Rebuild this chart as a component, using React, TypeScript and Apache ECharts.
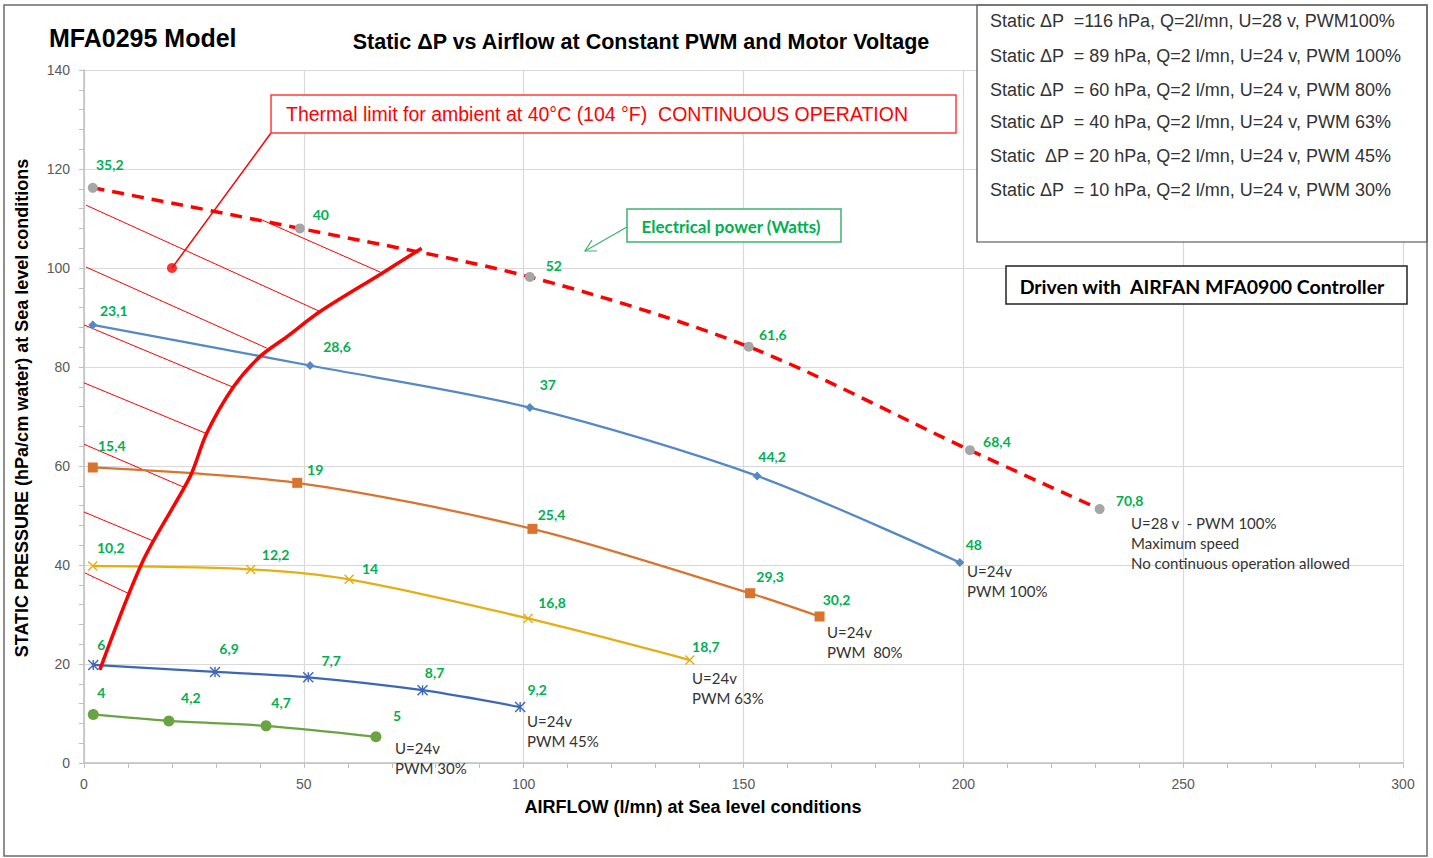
import { useEffect, useRef } from "react";
import * as echarts from "echarts";

// Airflow (l/mn), static pressure (hPa) and electrical power (W) per curve
const u28Pwm100Flow = [2.0, 49.1, 101.4, 151.2, 201.5, 231.0];
const u28Pwm100Pressure = [116.2, 108.0, 98.2, 84.1, 63.2, 51.3];
const u28Pwm100Watts = [35.2, 40, 52, 61.6, 68.4, 70.8];

const pwm100Flow = [2.0, 51.4, 101.4, 153.1, 199.2];
const pwm100Pressure = [88.5, 80.3, 71.8, 58.0, 40.5];
const pwm100Watts = [23.1, 28.6, 37, 44.2, 48];

const pwm80Flow = [2.0, 48.5, 102.0, 151.5, 167.3];
const pwm80Pressure = [59.7, 56.6, 47.3, 34.3, 29.6];
const pwm80Watts = [15.4, 19, 25.4, 29.3, 30.2];

const pwm63Flow = [2.0, 37.9, 60.3, 101.0, 137.8];
const pwm63Pressure = [39.8, 39.1, 37.1, 29.2, 20.8];
const pwm63Watts = [10.2, 12.2, 14, 16.8, 18.7];

const pwm45Flow = [2.1, 29.8, 51.0, 77.0, 99.2];
const pwm45Pressure = [19.8, 18.4, 17.3, 14.7, 11.3];
const pwm45Watts = [6, 6.9, 7.7, 8.7, 9.2];

const pwm30Flow = [2.1, 19.3, 41.4, 66.4];
const pwm30Pressure = [9.8, 8.5, 7.5, 5.3];
const pwm30Watts = [4, 4.2, 4.7, 5];

// Thermal limit curve (40°C ambient, continuous operation)
const thermalFlow = [3.6, 13.5, 24.1, 27.9, 34.0, 40.0, 46.1, 53.7, 67.7, 76.8];
const thermalPressure = [18.8, 41.0, 57.8, 66.6, 76.0, 82.1, 86.1, 91.2, 98.9, 104.0];

// Hatching of the non-continuous zone
const hatchFrom = [[0.45, 112.7], [0.45, 100.2], [40.5, 109.7], [0, 88.5], [0, 76.8], [0, 64.4], [0, 50.7], [0.2, 38.4]];
const hatchTo = [[53.7, 91.2], [41.6, 83.8], [67.8, 99.0], [33.7, 76.0], [28.0, 66.5], [22.5, 55.8], [15.9, 44.8], [10.0, 34.3]];

const ambientPoint = [20, 100];

const legendLines = [
  "Static \u0394P  =116 hPa, Q=2l/mn, U=28 v, PWM100%",
  "Static \u0394P  = 89 hPa, Q=2 l/mn, U=24 v, PWM 100%",
  "Static \u0394P  = 60 hPa, Q=2 l/mn, U=24 v, PWM 80%",
  "Static \u0394P  = 40 hPa, Q=2 l/mn, U=24 v, PWM 63%",
  "Static  \u0394P = 20 hPa, Q=2 l/mn, U=24 v, PWM 45%",
  "Static \u0394P  = 10 hPa, Q=2 l/mn, U=24 v, PWM 30%",
];

const endNotes = [
  "U=24v\nPWM 30%",
  "U=24v\nPWM 45%",
  "U=24v\nPWM 63%",
  "U=24v\nPWM  80%",
  "U=24v\nPWM 100%",
  "U=28 v  - PWM 100%\nMaximum speed\nNo continuous operation allowed",
];

// label offsets (style only)
const offU28 = [[17, -23], [21, -14], [24, -11], [24, -12], [27, -9], [30, -9]];
const off100 = [[21, -14], [27, -19], [18, -23], [15, -19], [14, -18]];
const off80 = [[19, -22], [18, -13], [19, -14], [20, -17], [17, -17]];
const off63 = [[18, -18], [25, -15], [21, -11], [24, -16], [16, -14]];
const off45 = [[8, -20], [14, -23], [23, -17], [12, -18], [17, -18]];
const off30 = [[8, -22], [22, -23], [15, -23], [21, -21]];

const notePos = [[395, 738], [527, 711], [692, 668], [827, 622], [967, 561], [1131, 513]];
const legendY = [21, 56, 90, 122, 156, 190];

const ARIAL = "'Liberation Sans', Arial, sans-serif";
const CALIBRI = "Lato, 'Open Sans', sans-serif";
const GREEN = "#00b050";

function curve(
  name: string,
  qs: number[],
  ps: number[],
  ws: number[],
  offs: number[][],
  color: string,
  symbol: string,
  symbolSize: number,
  extra: any = {}
) {
  return {
    type: "line",
    name,
    smooth: 0.3,
    symbol,
    symbolSize,
    z: 5,
    data: qs.map((q, i) => ({ value: [q, ps[i]], label: { offset: offs[i] } })),
    lineStyle: { color, width: 2.25, ...(extra.lineStyle || {}) },
    itemStyle: { color: extra.markerColor || color, borderColor: extra.markerColor || color, borderWidth: extra.borderWidth ?? 0 },
    label: {
      show: true,
      position: "inside",
      formatter: (p: any) => String(ws[p.dataIndex]).replace(".", ","),
      color: GREEN,
      fontFamily: CALIBRI,
      fontWeight: "bold",
      fontSize: 14,
    },
    emphasis: { disabled: true },
  };
}

export default function App() {
  const ref = useRef<HTMLDivElement>(null);

  useEffect(() => {
    if (!ref.current) return;
    const chart = echarts.init(ref.current, null, { renderer: "svg" });

    const xSym = "path://M0,0L10,10M10,0L0,10";
    const starSym = "path://M0,0L10,10M10,0L0,10M5,0L5,10";

    const graphic: any[] = [
      // outer frame
      { type: "rect", shape: { x: 4, y: 5, width: 1423, height: 851 }, style: { fill: "none", stroke: "#6b6b6b", lineWidth: 1.5 }, z: 100 },
      // titles
      { type: "text", x: 49, y: 38, style: { text: "MFA0295 Model", font: `bold 25px ${ARIAL}`, fill: "#000", verticalAlign: "middle" }, z: 100 },
      { type: "text", x: 641, y: 42, style: { text: "Static \u0394P vs Airflow at Constant PWM and Motor Voltage", font: `bold 21.5px ${ARIAL}`, fill: "#000", align: "center", verticalAlign: "middle" }, z: 100 },
      // axis names
      { type: "text", x: 22, y: 408, rotation: Math.PI / 2, style: { text: "STATIC PRESSURE (hPa/cm water) at Sea level conditions", font: `bold 18px ${ARIAL}`, fill: "#000", align: "center", verticalAlign: "middle" }, z: 100 },
      { type: "text", x: 693, y: 807, style: { text: "AIRFLOW (l/mn) at Sea level conditions", font: `bold 18px ${ARIAL}`, fill: "#000", align: "center", verticalAlign: "middle" }, z: 100 },
      // thermal callout
      { type: "line", shape: { x1: 271, y1: 133, x2: 172, y2: 268 }, style: { stroke: "#ff0000", lineWidth: 1.5 }, z: 50 },
      { type: "rect", shape: { x: 271, y: 95, width: 685, height: 38 }, style: { fill: "#fff", stroke: "#ff3b3b", lineWidth: 1.5 }, z: 60 },
      { type: "text", x: 597, y: 114, style: { text: "Thermal limit for ambient at 40\u00b0C (104 \u00b0F)  CONTINUOUS OPERATION", font: `19.5px ${ARIAL}`, fill: "#ff0000", align: "center", verticalAlign: "middle" }, z: 61 },
      // electrical power callout
      { type: "rect", shape: { x: 627, y: 209, width: 214, height: 33 }, style: { fill: "#fff", stroke: "#3cb371", lineWidth: 1.5 }, z: 60 },
      { type: "text", x: 731, y: 226, style: { text: "Electrical power (Watts)", font: `bold 17px ${CALIBRI}`, fill: GREEN, align: "center", verticalAlign: "middle" }, z: 61 },
      { type: "line", shape: { x1: 627, y1: 227, x2: 585, y2: 251 }, style: { stroke: "#3cb371", lineWidth: 1.2 }, z: 60 },
      { type: "polyline", shape: { points: [[597, 251], [585, 251], [592, 240]] }, style: { stroke: "#3cb371", lineWidth: 1.2, fill: "none" }, z: 60 },
      // legend box
      { type: "rect", shape: { x: 977, y: 5, width: 450, height: 237 }, style: { fill: "#fff", stroke: "#404040", lineWidth: 1.2 }, z: 60 },
      // driven box
      { type: "rect", shape: { x: 1006, y: 266, width: 401, height: 38 }, style: { fill: "#fff", stroke: "#222", lineWidth: 1.5 }, z: 60 },
      { type: "text", x: 1202, y: 286, style: { text: "Driven with  AIRFAN MFA0900 Controller", font: `bold 19.5px ${CALIBRI}`, fill: "#000", align: "center", verticalAlign: "middle" }, z: 61 },
    ];
    legendLines.forEach((t, i) => {
      graphic.push({ type: "text", x: 990, y: legendY[i], style: { text: t, font: `18px ${ARIAL}`, fill: "#333", verticalAlign: "middle" }, z: 61 });
    });
    endNotes.forEach((t, i) => {
      graphic.push({ type: "text", x: notePos[i][0], y: notePos[i][1], style: { text: t, font: `15px ${CALIBRI}`, fill: "#333", verticalAlign: "top", lineHeight: 20 }, z: 40 });
    });

    const option: any = {
      animation: false,
      backgroundColor: "#fff",
      grid: { left: 84, right: 30, top: 70, bottom: 95, containLabel: false },
      xAxis: {
        type: "value",
        min: 0,
        max: 300,
        interval: 50,
        axisLine: { show: true, lineStyle: { color: "#bfbfbf", width: 1.5 } },
        axisTick: { show: true, length: 5, lineStyle: { color: "#bfbfbf" } },
        minorTick: { show: true, splitNumber: 5, length: 5, lineStyle: { color: "#bfbfbf" } },
        splitLine: { show: true, lineStyle: { color: "#d9d9d9", width: 1.2 } },
        axisLabel: { color: "#595959", fontFamily: ARIAL, fontSize: 14, margin: 14 },
      },
      yAxis: {
        type: "value",
        min: 0,
        max: 140,
        interval: 20,
        axisLine: { show: true, lineStyle: { color: "#bfbfbf", width: 1.5 } },
        axisTick: { show: true, length: 5, lineStyle: { color: "#bfbfbf" } },
        minorTick: { show: true, splitNumber: 5, length: 5, lineStyle: { color: "#bfbfbf" } },
        splitLine: { show: true, lineStyle: { color: "#d9d9d9", width: 1.2 } },
        axisLabel: { color: "#595959", fontFamily: ARIAL, fontSize: 14, margin: 14 },
      },
      graphic,
      series: [
        {
          type: "lines",
          coordinateSystem: "cartesian2d",
          z: 3,
          silent: true,
          lineStyle: { color: "#ff0000", width: 1, opacity: 1 },
          data: hatchFrom.map((a, i) => ({ coords: [a, hatchTo[i]] })),
        },
        curve("U=28v PWM 100%", u28Pwm100Flow, u28Pwm100Pressure, u28Pwm100Watts, offU28, "#ff0000", "circle", 10, {
          lineStyle: { type: [12, 8], width: 3.5 },
          markerColor: "#a6a6a6",
        }),
        curve("U=24v PWM 100%", pwm100Flow, pwm100Pressure, pwm100Watts, off100, "#5489c5", "diamond", 9),
        curve("U=24v PWM 80%", pwm80Flow, pwm80Pressure, pwm80Watts, off80, "#d9742f", "rect", 10),
        curve("U=24v PWM 63%", pwm63Flow, pwm63Pressure, pwm63Watts, off63, "#e5ae12", xSym, 9, { borderWidth: 1.4 }),
        curve("U=24v PWM 45%", pwm45Flow, pwm45Pressure, pwm45Watts, off45, "#3e66b8", starSym, 10, { borderWidth: 1.4 }),
        curve("U=24v PWM 30%", pwm30Flow, pwm30Pressure, pwm30Watts, off30, "#6aa342", "circle", 11),
        {
          type: "line",
          name: "Thermal limit",
          smooth: 0.3,
          symbol: "none",
          z: 8,
          data: thermalFlow.map((q, i) => [q, thermalPressure[i]]),
          lineStyle: { color: "#ff0000", width: 3.5 },
          emphasis: { disabled: true },
        },
        {
          type: "scatter",
          name: "Ambient",
          z: 9,
          symbolSize: 10,
          itemStyle: { color: "#ff0000" },
          data: [ambientPoint],
          emphasis: { disabled: true },
        },
      ],
    };

    chart.setOption(option);
    return () => chart.dispose();
  }, []);

  return <div ref={ref} style={{ position: "absolute", left: 0, top: 0, width: 1433, height: 858 }} />;
}
